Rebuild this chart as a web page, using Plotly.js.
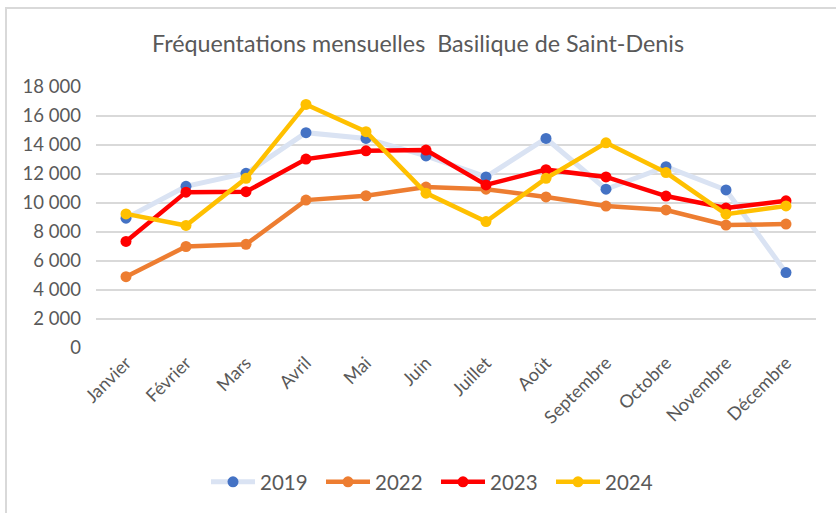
<!DOCTYPE html>
<html>
<head>
<meta charset="utf-8">
<script src="https://cdn.plot.ly/plotly-3.0.1.min.js"></script>
<style>
  html, body { margin: 0; padding: 0; background: #fff; overflow: hidden; }
  #frame { position: absolute; left: 5px; top: 7px; width: 900px; height: 600px; border: 2px solid #d9d9d9; box-sizing: border-box; }
  #chart { position: absolute; left: 0; top: 0; width: 836px; height: 513px; }
</style>
</head>
<body>
<div id="frame"></div>
<div id="chart"></div>
<script>
const months = ["Janvier","Février","Mars","Avril","Mai","Juin","Juillet","Août","Septembre","Octobre","Novembre","Décembre"];
const v2019 = [8950, 11150, 12050, 14850, 14450, 13250, 11800, 14450, 10950, 12500, 10900, 5200];
const v2022 = [4920, 7000, 7150, 10200, 10500, 11100, 10950, 10420, 9790, 9520, 8480, 8550];
const v2023 = [7350, 10750, 10780, 13030, 13600, 13650, 11250, 12300, 11800, 10480, 9650, 10150];
const v2024 = [9250, 8450, 11700, 16800, 14920, 10680, 8720, 11700, 14150, 12100, 9230, 9800];
const yTicks = [0, 2000, 4000, 6000, 8000, 10000, 12000, 14000, 16000, 18000];

const font = "Lato, 'Open Sans', sans-serif";
function tr(name, y, lineColor, markerColor, w) {
  return {
    type: "scatter", mode: "lines+markers", name: name, x: months, y: y,
    line: { color: lineColor, width: w },
    marker: { color: markerColor, size: 11, line: { width: 0 } }
  };
}
const data = [
  tr("2019", v2019, "#dae3f3", "#4472c4", 5),
  tr("2022", v2022, "#ed7d31", "#ed7d31", 4.5),
  tr("2023", v2023, "#ff0000", "#ff0000", 4.5),
  tr("2024", v2024, "#ffc000", "#ffc000", 4.5)
];
const layout = {
  width: 836, height: 513,
  paper_bgcolor: "rgba(0,0,0,0)", plot_bgcolor: "rgba(0,0,0,0)",
  margin: { l: 96, r: 20, t: 87, b: 165 },
  separators: ", ",
  font: { family: font, color: "#595959", size: 18 },
  title: { text: "Fréquentations mensuelles  Basilique de Saint-Denis", x: 0.5, xref: "container", xanchor: "center",
           y: 1 - 44/513, yref: "container", yanchor: "middle", font: { family: font, size: 23.3, color: "#595959" } },
  xaxis: { type: "category", range: [-0.5, 11.5], showgrid: false, zeroline: false, showline: false,
           ticks: "", tickangle: -45, tickfont: { size: 18, color: "#595959" }, automargin: false },
  yaxis: { range: [0, 18000], tickvals: yTicks, tickformat: ",d", separatethousands: true,
           showgrid: true, gridcolor: "#d9d9d9", gridwidth: 1.8, zeroline: false, showline: false,
           ticks: "", ticklabelstandoff: 14, tickfont: { size: 18.5, color: "#595959" }, automargin: false },
  legend: { orientation: "h", x: 0.5 + 18/836, xref: "container", xanchor: "center", y: 1 - 482/513, yref: "container", yanchor: "middle",
            font: { size: 20.5, color: "#595959" }, itemwidth: 44, entrywidth: 56, entrywidthmode: "pixels", traceorder: "normal" },
  showlegend: true
};
Plotly.newPlot("chart", data, layout, { displayModeBar: false, staticPlot: true });
</script>
</body>
</html>
